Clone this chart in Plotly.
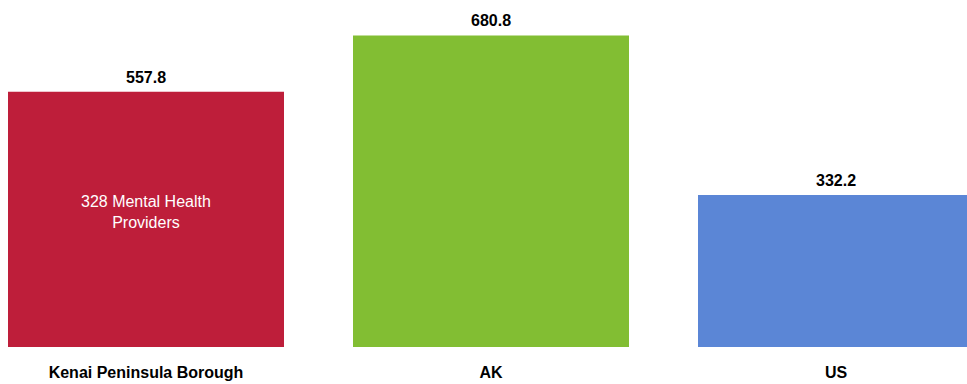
import plotly.graph_objects as go

# Mental health providers per 100,000 population
regions = ["Kenai Peninsula Borough", "AK", "US"]
rates = [557.8, 680.8, 332.2]
provider_note = "328 Mental Health<br>Providers"
note_level = 295  # where the note sits inside the first bar
bar_colors = ["#BE1E3A", "#82BE33", "#5B86D6"]

FONT = "Liberation Sans, Arial, sans-serif"

fig = go.Figure()

fig.add_trace(go.Bar(
    x=list(range(len(regions))),
    y=rates,
    marker=dict(color=bar_colors, line=dict(width=0)),
    hoverinfo="skip",
))

# Value labels above each bar
for i, v in enumerate(rates):
    fig.add_annotation(
        x=i, y=v, text=f"<b>{v:.1f}</b>",
        showarrow=False, yanchor="bottom", yshift=4,
        font=dict(family=FONT, size=16, color="#000000"),
    )

# Note inside the first bar
fig.add_annotation(
    x=0, y=note_level, text=provider_note,
    showarrow=False, yanchor="middle",
    font=dict(family=FONT, size=16, color="white"),
)

fig.update_layout(
    width=967, height=384,
    margin=dict(l=0, r=0, t=0, b=37),
    paper_bgcolor="white",
    plot_bgcolor="white",
    showlegend=False,
    bargap=0.2,
    xaxis=dict(
        range=[-0.4232, 2.3797],
        tickvals=list(range(len(regions))),
        ticktext=[f"<b>{r}</b>" for r in regions],
        tickfont=dict(family=FONT, size=16, color="#000000"),
        ticks="", showgrid=False, zeroline=False, showline=False,
        ticklabelstandoff=14,
    ),
    yaxis=dict(
        range=[0, 758.1],
        visible=False, showgrid=False, zeroline=False,
    ),
)

# drop the default page margin so the figure fills the window exactly
fig.write_html(
    "out.html",
    config={"displayModeBar": False},
    post_script="document.body.style.margin='0';document.body.style.overflow='hidden';",
)
